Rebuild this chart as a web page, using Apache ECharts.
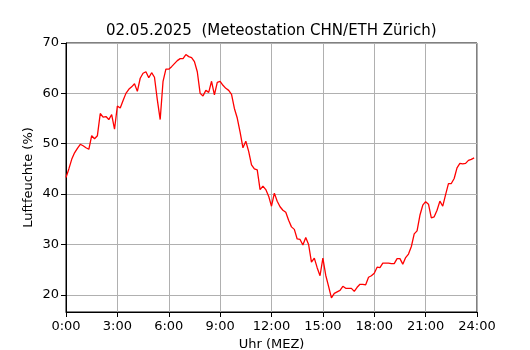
<!DOCTYPE html>
<html>
<head>
<meta charset="utf-8">
<script src="https://cdn.jsdelivr.net/npm/echarts@6/dist/echarts.min.js"></script>
<style>
  html, body { margin: 0; padding: 0; background: #fff; }
  #chart { width: 530px; height: 350px; }
</style>
</head>
<body>
<div id="chart"></div>
<script>
// Luftfeuchte in %, 10-Minuten-Werte ab 0:00
const humidity = [
    43.3, 45.0, 46.9, 48.2, 49.1, 49.9, 49.6, 49.2, 48.9, 51.6,
    51.0, 51.6, 56.0, 55.3, 55.4, 54.8, 55.8, 52.9, 57.5, 57.1,
    58.6, 60.0, 60.8, 61.3, 61.9, 60.4, 63.0, 64.0, 64.3, 63.1,
    64.1, 63.2, 58.7, 54.8, 62.4, 64.8, 64.8, 65.3, 65.9, 66.5,
    66.9, 66.9, 67.7, 67.3, 67.1, 66.3, 64.3, 60.0, 59.5, 60.6,
    60.2, 62.4, 59.7, 62.2, 62.4, 61.6, 61.0, 60.6, 59.8, 57.0,
    55.1, 52.3, 49.2, 50.5, 48.5, 45.8, 45.0, 44.8, 40.9, 41.6,
    40.9, 39.6, 37.6, 40.2, 38.6, 37.5, 36.8, 36.4, 34.8, 33.5,
    33.0, 31.1, 31.0, 29.9, 31.4, 30.0, 26.5, 27.3, 25.4, 23.8,
    27.3, 23.9, 21.7, 19.4, 20.3, 20.6, 20.9, 21.7, 21.3, 21.3,
    21.3, 20.7, 21.5, 22.1, 22.1, 22.0, 23.5, 23.8, 24.3, 25.5,
    25.4, 26.3, 26.3, 26.3, 26.2, 26.2, 27.2, 27.2, 26.1, 27.4,
    28.1, 29.6, 32.1, 32.7, 35.8, 37.8, 38.5, 38.0, 35.3, 35.5,
    36.8, 38.6, 37.6, 39.9, 42.1, 42.1, 43.1, 45.2, 46.1, 46.0,
    46.1, 46.7, 46.9, 47.2
];
const stepMinutes = 10;
const titleText = '02.05.2025  (Meteostation CHN/ETH Zürich)';

const chart = echarts.init(document.getElementById('chart'));

const seriesData = humidity.map((v, i) => [i * stepMinutes, v]);
const font = 'DejaVu Sans';

const option = {
    animation: false,
    title: {
        text: titleText,
        left: 101,
        top: 19,
        textStyle: { fontFamily: font, fontSize: 15, fontWeight: 'normal', color: '#000' }
    },
    grid: {
        left: 66, right: 53, top: 43, bottom: 38,
        show: true,
        borderColor: '#000',
        borderWidth: 1,
        containLabel: false,
        outerBoundsMode: 'none'
    },
    xAxis: {
        type: 'value',
        min: 0,
        max: 1440,
        interval: 180,
        name: 'Uhr (MEZ)',
        nameLocation: 'middle',
        nameGap: 26,
        nameMoveOverlap: false,
        nameTextStyle: { fontFamily: font, fontSize: 13, color: '#000' },
        axisLine: { show: true, lineStyle: { color: '#000', width: 1 } },
        axisTick: { show: true, length: 5, lineStyle: { color: '#000' } },
        axisLabel: {
            fontFamily: font, fontSize: 13, color: '#000', margin: 8,
            formatter: v => (v / 60) + ':00'
        },
        splitLine: { show: true, lineStyle: { color: '#b0b0b0', width: 1 } }
    },
    yAxis: {
        type: 'value',
        min: 16.6,
        max: 70,
        splitNumber: 5,
        name: 'Luftfeuchte (%)',
        nameLocation: 'middle',
        nameGap: 31,
        nameMoveOverlap: false,
        nameTextStyle: { fontFamily: font, fontSize: 13, color: '#000' },
        axisLine: { show: true, lineStyle: { color: '#000', width: 1 } },
        axisTick: { show: true, length: 5, lineStyle: { color: '#000' } },
        axisLabel: {
            fontFamily: font, fontSize: 13, color: '#000', margin: 7,
            showMinLabel: false,
            formatter: v => Math.round(v) === v ? String(v) : ''
        },
        splitLine: { show: true, lineStyle: { color: '#b0b0b0', width: 1 } }
    },
    series: [{
        type: 'line',
        data: seriesData,
        showSymbol: false,
        lineStyle: { color: '#ff0000', width: 1.3 },
        itemStyle: { color: '#ff0000' }
    }]
};

chart.setOption(option);
</script>
</body>
</html>
